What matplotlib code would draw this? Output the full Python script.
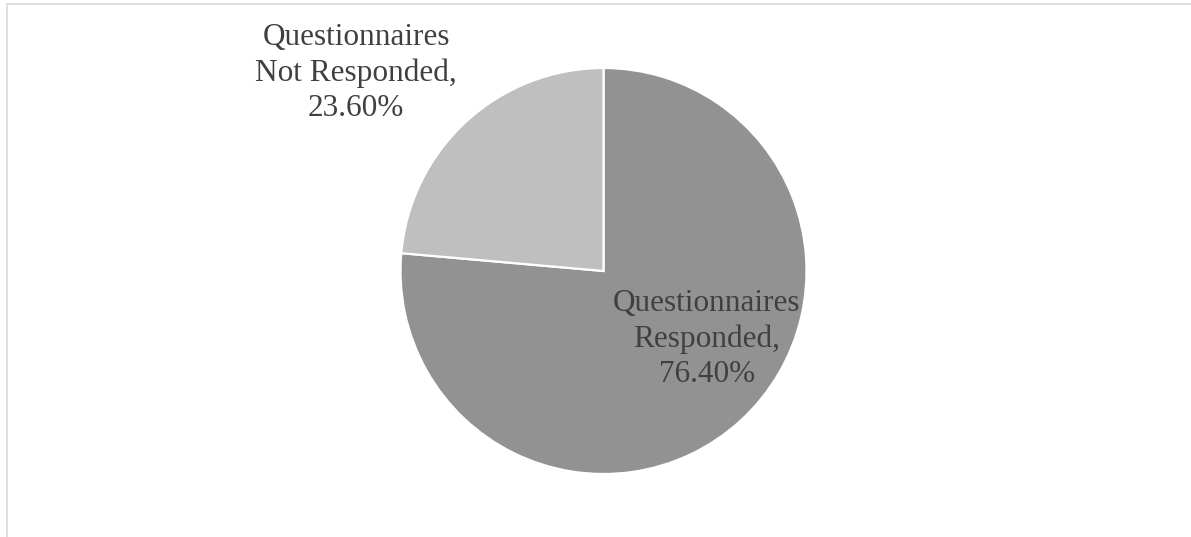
import matplotlib
matplotlib.use("Agg")
import matplotlib.pyplot as plt
from matplotlib.patches import Rectangle

categories = ["Questionnaires\nResponded", "Questionnaires\nNot Responded"]
values = [76.40, 23.60]
colors = ["#929292", "#bfbfbf"]

W, H = 1191, 537
fig = plt.figure(figsize=(W / 100, H / 100), dpi=100)
ax = fig.add_axes([0, 0, 1, 1])
ax.set_xlim(0, W)
ax.set_ylim(0, H)
ax.set_aspect("equal")
ax.axis("off")

cx, cy, r = 603.5, H - 271, 203
ax.pie(values, colors=colors, startangle=90, counterclock=False,
       center=(cx, cy), radius=r, frame=True,
       wedgeprops=dict(edgecolor="white", linewidth=1.6))
ax.set_xlim(0, W)
ax.set_ylim(0, H)
ax.axis("off")

label_pos = [(707, H - 339), (356, H - 73)]
for cat, val, (x, y) in zip(categories, values, label_pos):
    ax.text(x, y, f"{cat},\n{val:.2f}%", ha="center", va="center",
            fontsize=22.5, family="Liberation Serif", color="#404040",
            linespacing=1.27)

fig.patches.append(Rectangle((6.5 / W, -0.1), 1.2, 1.1 - 3.5 / H,
                             transform=fig.transFigure, fill=False,
                             edgecolor="#d9d9d9", linewidth=1.2))

fig.savefig("out.png", dpi=100, facecolor="white")
